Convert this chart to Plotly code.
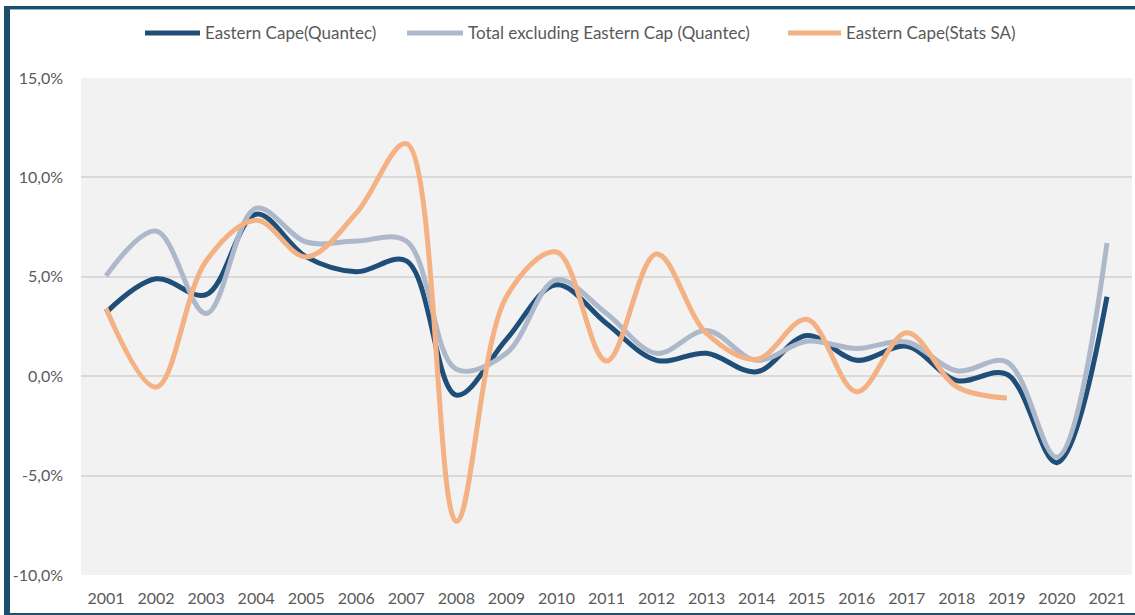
import plotly.graph_objects as go

years = list(range(2001, 2022))
ec_quantec = [3.2, 4.9, 4.1, 8.15, 6.0, 5.25, 5.8, -0.95, 1.85, 4.6, 2.65, 0.8, 1.15, 0.22, 2.05, 0.8, 1.5, -0.22, 0.1, -4.35, 4.0]
total_ex_ec = [5.05, 7.3, 3.15, 8.45, 6.75, 6.8, 6.8, 0.35, 1.15, 4.85, 3.15, 1.15, 2.3, 0.8, 1.76, 1.39, 1.72, 0.27, 0.72, -4.07, 6.7]
ec_statssa = [3.4, -0.55, 5.8, 7.85, 6.0, 8.2, 11.7, -7.3, 4.0, 6.25, 0.77, 6.15, 2.15, 0.85, 2.86, -0.78, 2.18, -0.53, -1.1, None, None]

names = ["Eastern Cape(Quantec)", "Total excluding Eastern Cap (Quantec)", "Eastern Cape(Stats SA)"]
colors = ["#1F4E79", "#ADB9CA", "#F4B183"]
y_ticks = [-10, -5, 0, 5, 10, 15]
y_tick_labels = ["-10,0%", "-5,0%", "0,0%", "5,0%", "10,0%", "15,0%"]

fig = go.Figure()
for name, vals, col in zip(names, [ec_quantec, total_ex_ec, ec_statssa], colors):
    fig.add_trace(go.Scatter(x=years, y=vals, name=name, mode="lines",
                             line=dict(color=col, width=5, shape="spline", smoothing=1.0),
                             connectgaps=False, showlegend=False))

L, R, T, B = 81, 3, 78, 40
W, H = 1135 - L - R, 615 - T - B
px = lambda p: (p - L) / W
py = lambda p: (615 - B - p) / H

border = "#1B4F6A"
shapes = [
    dict(type="rect", xref="paper", yref="paper", x0=px(4), x1=px(10), y0=py(615), y1=py(6), fillcolor=border, line_width=0, layer="above"),
    dict(type="rect", xref="paper", yref="paper", x0=px(4), x1=px(1135), y0=py(9), y1=py(6), fillcolor=border, line_width=0, layer="above"),
    dict(type="rect", xref="paper", yref="paper", x0=px(10), x1=px(1135), y0=py(10), y1=py(9), fillcolor="#8FB3C8", line_width=0, layer="above"),
    dict(type="rect", xref="paper", yref="paper", x0=px(4), x1=px(1135), y0=py(615), y1=py(613), fillcolor=border, line_width=0, layer="above"),
]

# manual legend (longer line samples, like the original)
legend_lines = [(145, 200), (407, 463), (788, 841)]
annotations = []
for (x0, x1), name, col in zip(legend_lines, names, colors):
    shapes.append(dict(type="line", xref="paper", yref="paper", x0=px(x0), x1=px(x1), y0=py(33), y1=py(33),
                       line=dict(color=col, width=5)))
    annotations.append(dict(text=name, xref="paper", yref="paper", x=px(x1 + 3), y=py(33), xanchor="left",
                            yanchor="middle", showarrow=False, font=dict(size=17, color="#595959")))

fig.update_layout(
    width=1135, height=615,
    margin=dict(l=L, r=R, t=T, b=B, autoexpand=False),
    paper_bgcolor="white", plot_bgcolor="#F2F2F2",
    font=dict(family="Lato", size=16, color="#595959"),
    showlegend=False,
    shapes=shapes, annotations=annotations,
    xaxis=dict(range=[2000.5, 2021.5], tickmode="array", tickvals=years, ticktext=[str(y) for y in years],
               showgrid=False, zeroline=False, showline=False, ticks="", ticklabelstandoff=12, tickfont=dict(size=16)),
    yaxis=dict(range=[-10, 15], tickmode="array", tickvals=y_ticks, ticktext=y_tick_labels,
               showgrid=True, gridcolor="#D9D9D9", gridwidth=1.5, zeroline=False, showline=False,
               ticks="", ticklabelstandoff=17, tickfont=dict(size=16)),
)

fig.write_html("out.html", config={"displayModeBar": False},
               post_script="document.body.style.margin='0';document.body.style.overflow='hidden';")
